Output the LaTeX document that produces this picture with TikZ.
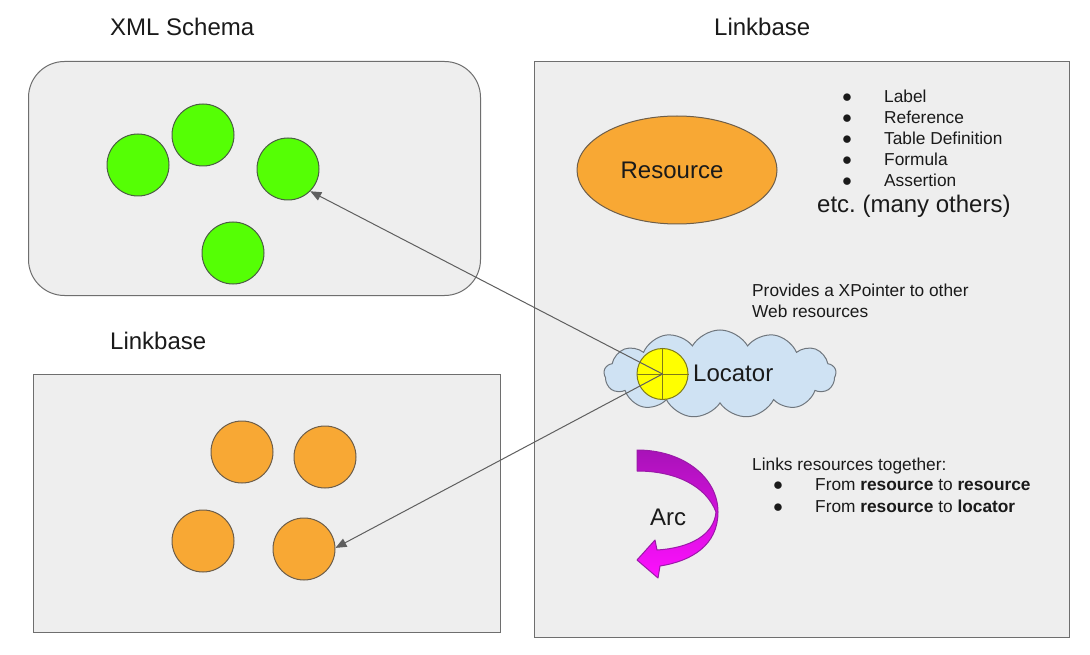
\documentclass[tikz,border=0pt]{standalone}
\usepackage{fontspec}
\setmainfont{Liberation Sans}
\usetikzlibrary{shapes.geometric,shapes.symbols,arrows.meta}
\definecolor{panelfill}{HTML}{EEEEEE}
\definecolor{panelline}{HTML}{6E6E6E}
\definecolor{ballgreen}{HTML}{55FF05}
\definecolor{greenline}{HTML}{4B5E44}
\definecolor{ballorange}{HTML}{F8A834}
\definecolor{orangeline}{HTML}{6D5E4A}
\definecolor{cloudfill}{HTML}{CFE2F3}
\definecolor{cloudline}{HTML}{6F767D}
\definecolor{yelfill}{HTML}{FFFF00}
\definecolor{yelline}{HTML}{7F7A1A}
\definecolor{linkgray}{HTML}{5F5F5F}
\definecolor{arctop}{HTML}{A812B8}
\definecolor{arcbot}{HTML}{FF10FF}
\definecolor{arcline}{HTML}{9A1AA8}
\definecolor{txt}{HTML}{1A1A1A}
\frenchspacing
\tikzset{
  panel/.style={draw=panelline, fill=panelfill, line width=1pt, inner sep=0, anchor=north west},
  greenball/.style={circle, draw=greenline, fill=ballgreen, minimum size=62pt, inner sep=0, line width=1pt},
  orangeball/.style={circle, draw=orangeline, fill=ballorange, minimum size=62pt, inner sep=0, line width=1pt},
  bigtext/.style={font=\fontsize{24}{28}\selectfont, text=txt, inner sep=0, anchor=base west},
  smalltext/.style={font=\fontsize{17.3}{21}\selectfont, text=txt, inner sep=0, anchor=base west},
  bullet/.style={font=\fontsize{17.3}{21}\selectfont, text=txt, inner sep=0, anchor=base},
  link/.style={draw=linkgray, line width=1pt, -{Triangle[length=11pt,width=9pt]}}
}
\begin{document}
\begin{tikzpicture}[x=1pt,y=-1pt]
\useasboundingbox[fill=white] (0,0) rectangle (1090,655);

% titles
\node[bigtext] (t1) at (110,35.5) {XML Schema};
\node[bigtext] (t2) at (714,35.5) {Linkbase};
\node[bigtext] (t3) at (110,349) {Linkbase};

% panels
\node[panel, rounded corners=36pt, minimum width=452pt, minimum height=234pt] (schema) at (28,61) {};
\node[panel, minimum width=467pt, minimum height=258pt] (lbleft) at (33,374) {};
\node[panel, minimum width=535pt, minimum height=576pt] (lbright) at (534,61) {};

% green balls
\node[greenball] (g1) at (138,165) {};
\node[greenball] (g2) at (203,135) {};
\node[greenball] (g3) at (288,169) {};
\node[greenball] (g4) at (233,253) {};

% orange balls
\node[orangeball] (o1) at (242,452) {};
\node[orangeball] (o2) at (325,457) {};
\node[orangeball] (o3) at (203,541) {};
\node[orangeball] (o4) at (304,549) {};

% resource
\node[ellipse, draw=orangeline, fill=ballorange, line width=1pt, minimum width=200pt, minimum height=108pt, inner sep=0] (res) at (677,170) {};
\node[bigtext, anchor=base] (restext) at (672,178.5) {Resource};

% list
\node[bullet] (b1) at (847,103) {●};
\node[bullet] (b2) at (847,124) {●};
\node[bullet] (b3) at (847,145) {●};
\node[bullet] (b4) at (847,166) {●};
\node[bullet] (b5) at (847,187) {●};
\node[smalltext] (l1) at (884,103) {Label};
\node[smalltext] (l2) at (884,124) {Reference};
\node[smalltext] (l3) at (884,145) {Table Definition};
\node[smalltext] (l4) at (884,166) {Formula};
\node[smalltext] (l5) at (884,187) {Assertion};
\node[bigtext] (etc) at (817,213) {etc. (many others)};

% provides
\node[smalltext] (p1) at (752,296) {Provides a XPointer to other};
\node[smalltext] (p2) at (752,317) {Web resources};

% cloud + locator
\node[cloud, cloud puffs=13, cloud puff arc=120, aspect=2.6, draw=cloudline, fill=cloudfill, line width=1pt, minimum width=232pt, minimum height=88pt, inner sep=0] (cloud) at (720,374) {};
\node[circle, draw=yelline, fill=yelfill, minimum size=51pt, inner sep=0, line width=1pt] (loc) at (662.5,374) {};
\draw[yelline, line width=1pt] (loc.north) -- (loc.south);
\draw[yelline, line width=1pt] (loc.west) -- (loc.east);
\node[bigtext] (loctext) at (693,381) {Locator};

% links
\draw[link] (loc.center) -- (g3.-45);
\draw[link] (loc.center) -- (o4.2);

% arc
\shadedraw[top color=arctop, bottom color=arcbot, draw=arcline, line width=1pt, line join=round]
  (637,450) .. controls (684,450) and (718,478) .. (718,512)
  .. controls (718,545) and (692,561) .. (660,566)
  -- (658,578) -- (637,560) -- (655,540) -- (657,550)
  .. controls (690,548) and (714,535) .. (716,512)
  .. controls (706,486) and (676,471) .. (637,471) -- cycle;
\node[bigtext] (arctext) at (650,525) {Arc};

% links text
\node[smalltext] (k1) at (752,470.5) {Links resources together:};
\node[bullet] (kb1) at (778,490.5) {●};
\node[bullet] (kb2) at (778,512) {●};
\node[smalltext] (k2) at (815,490.5) {From \textbf{resource} to \textbf{resource}};
\node[smalltext] (k3) at (815,512) {From \textbf{resource} to \textbf{locator}};
\end{tikzpicture}
\end{document}
